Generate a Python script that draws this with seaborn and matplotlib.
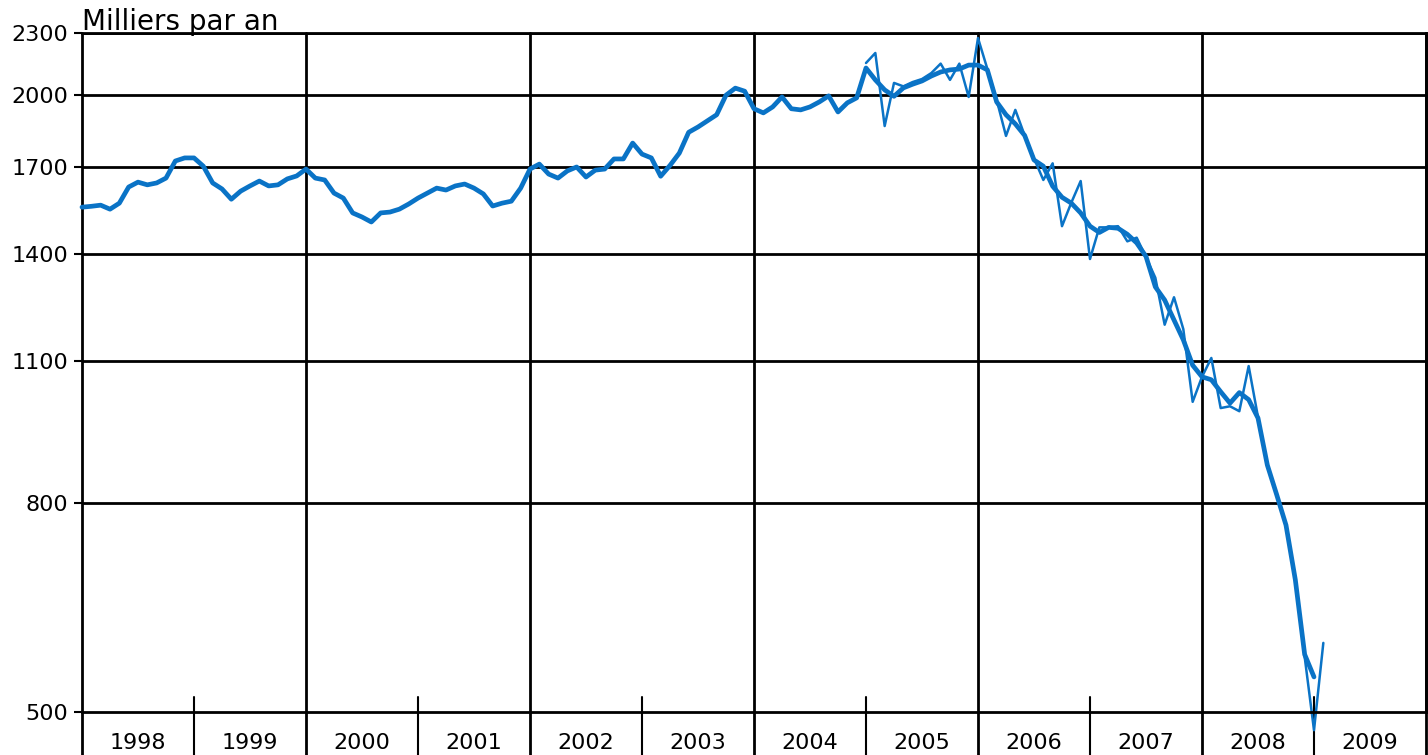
import numpy as np
import pandas as pd
import matplotlib
matplotlib.use("Agg")
import matplotlib.pyplot as plt
import seaborn as sns

# Milliers par an, mensuel, série lissée à partir de janvier 1998
smooth = [
    1555, 1558, 1562, 1548, 1569, 1627, 1645, 1635, 1642, 1660, 1725, 1737,  # 1998
    1737, 1705, 1642, 1620, 1583, 1612, 1631, 1649, 1631, 1635, 1657, 1668,  # 1999
    1694, 1660, 1653, 1605, 1587, 1535, 1521, 1504, 1535, 1538, 1548, 1566,  # 2000
    1587, 1605, 1623, 1616, 1631, 1638, 1623, 1602, 1559, 1569, 1576, 1623,  # 2001
    1694, 1713, 1675, 1660, 1687, 1702, 1664, 1690, 1694, 1733, 1733, 1796,  # 2002
    1752, 1737, 1667, 1708, 1756, 1840, 1862, 1888, 1914, 2000, 2032, 2018,  # 2003
    1940, 1922, 1948, 1992, 1940, 1935, 1948, 1970, 1997, 1926, 1966, 1988,  # 2004
    2126, 2070, 2024, 1995, 2033, 2050, 2065, 2088, 2107, 2117, 2121, 2140,  # 2005
    2140, 2117, 1970, 1914, 1875, 1827, 1729, 1705, 1630, 1590, 1569, 1535,  # 2006
    1490, 1469, 1486, 1483, 1463, 1435, 1392, 1300, 1262, 1207, 1154, 1090,  # 2007
    1062, 1055, 1027, 1001, 1025, 1009, 968, 871, 815, 761, 673, 569,        # 2008
    541,                                                                     # 2009
]
smooth_start = 1998

# série mensuelle brute à partir de janvier 2005
monthly = [
    2150, 2199, 1866, 2056, 2040, 2060, 2074, 2102, 2147, 2070, 2147, 1992,  # 2005
    2274, 2122, 1979, 1825, 1935, 1827, 1735, 1653, 1716, 1490, 1571, 1649,  # 2006
    1384, 1486, 1486, 1490, 1440, 1452, 1390, 1327, 1194, 1270, 1182, 1004,  # 2007
    1062, 1108, 990, 994, 983, 1088, 970, 871, 815, 761, 673, 566,           # 2008
    480, 584,                                                                # 2009
]
monthly_start = 2005

years = list(range(1998, 2010))
y_ticks = [500, 800, 1100, 1400, 1700, 2000, 2300]

df_s = pd.DataFrame({"date": smooth_start + np.arange(len(smooth)) / 12, "val": smooth})
df_m = pd.DataFrame({"date": monthly_start + np.arange(len(monthly)) / 12, "val": monthly})

sns.set_style("white")
plt.rcParams["font.family"] = ["DejaVu Sans"]
plt.rcParams["text.color"] = "black"
plt.rcParams["ytick.labelcolor"] = "black"

blue = "#0A73C6"
fig = plt.figure(figsize=(14.28, 7.55), dpi=100)
ax = fig.add_axes([82 / 1428, 1 - 712 / 755, 1344 / 1428, 679 / 755])

sns.lineplot(data=df_m, x="date", y="val", ax=ax, color=blue, lw=1.8, clip_on=False)
sns.lineplot(data=df_s, x="date", y="val", ax=ax, color=blue, lw=3.4, clip_on=False)

ax.set_yscale("log")
ax.set_ylim(500, 2300)
ax.set_xlim(1998, 2010)
ax.set_yticks(y_ticks)
ax.set_yticklabels([str(v) for v in y_ticks], fontsize=16, color="black")
ax.yaxis.set_minor_locator(matplotlib.ticker.NullLocator())
ax.tick_params(axis="y", length=6, width=1.5, color="black", pad=4, direction="out", left=True)
ax.set_xticks([])
ax.set_xlabel("")
ax.set_ylabel("")

for sp in ax.spines.values():
    sp.set_color("black")
    sp.set_linewidth(2)
ax.spines["left"].set_visible(False)

for v in y_ticks[1:]:
    ax.axhline(v, color="black", lw=2, zorder=1)

# lignes verticales tous les deux ans, prolongées sous l'axe
for yr in range(1998, 2011, 2):
    ax.axvline(yr, ymin=-0.064, ymax=1, color="black", lw=2, clip_on=False, zorder=1)
for yr in range(1999, 2010, 2):
    ax.axvline(yr, ymin=-0.064, ymax=0.022, color="black", lw=1.5, clip_on=False, zorder=1)

for yr in years:
    ax.text(yr + 0.5, -0.045, str(yr), transform=ax.get_xaxis_transform(),
            ha="center", va="center", fontsize=16, color="black")

ax.text(0.0, 0.995, "Milliers par an", transform=ax.transAxes, ha="left", va="bottom",
        fontsize=20, color="black")

fig.savefig("out.png", dpi=100)
